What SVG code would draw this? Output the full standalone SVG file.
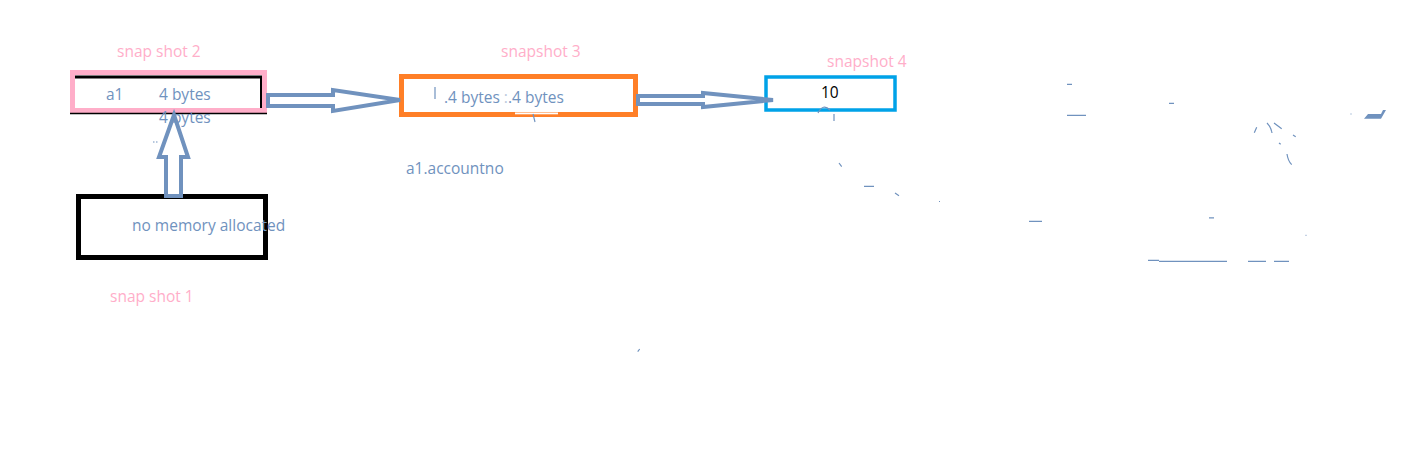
<svg xmlns="http://www.w3.org/2000/svg" width="1416" height="465" viewBox="0 0 1416 465">
<style>
  .t { font-family: "Open Sans", "Liberation Sans", sans-serif; font-size: 15.5px; }
  .pink { fill: #ffaec9; }
  .blue { fill: #7092be; }
  .arrow { fill: none; stroke: #7092be; stroke-width: 4; stroke-linejoin: miter; }
  .mark { fill: none; stroke: #7092be; stroke-width: 1.2; }
</style>
<rect width="1416" height="465" fill="#ffffff"/>

<g id="snapshot1">
  <rect x="78.5" y="196.5" width="187" height="61" fill="none" stroke="#000000" stroke-width="5"/>
  <text class="t pink" x="110" y="302">snap shot 1</text>
</g>

<g id="snapshot2">
  <path d="M75,77 H261.5 V108" fill="none" stroke="#000000" stroke-width="3"/>
  <rect x="72.5" y="72.5" width="192" height="38" fill="none" stroke="#ffaec9" stroke-width="5"/>
  <line x1="70" y1="113.5" x2="267" y2="113.5" stroke="#000000" stroke-width="1.5"/>
  <text class="t pink" x="117" y="57">snap shot 2</text>
  <text class="t blue" x="106" y="100">a1</text>
  <text class="t blue" x="159" y="100">4 bytes</text>
</g>

<g id="snapshot3">
  <rect x="401.5" y="76.5" width="234" height="38" fill="none" stroke="#ff7f27" stroke-width="5"/>
  <rect x="515" y="112.5" width="43" height="1.8" fill="#ffffff"/>
  <line x1="435" y1="87" x2="435" y2="99" stroke="#7092be" stroke-width="1.2"/>
  <path d="M533,114 L535,122" class="mark"/>
  <text class="t pink" x="501" y="57">snapshot 3</text>
  <text class="t blue" x="444" y="103">.4 bytes <tspan fill="#b9c8dc">:</tspan>.4 bytes</text>
  <text class="t blue" x="406" y="174">a1.accountno</text>
</g>

<g id="snapshot4">
  <rect x="766" y="77" width="129" height="33" fill="none" stroke="#00a2e8" stroke-width="3.5"/>
  <path d="M818,113 Q823,103 830,110" class="mark"/>
  <path d="M834,114 V121" class="mark"/>
  <text class="t pink" x="827" y="67">snapshot 4</text>
  <text class="t" x="821" y="98" fill="#000000">10</text>
</g>

<g id="connectors">
  <polygon class="arrow" points="166,196 166,157 159,157 174,115 188,157 181,157 181,196"/>
  <polygon class="arrow" points="268,95 333,95 333,90 400,100 333,111 333,106 268,106"/>
  <polygon class="arrow" points="638,96 703,96 703,93 773,100 703,107 703,104 638,104"/>
</g>

<text class="t blue" x="159" y="123">4 bytes</text>
<text class="t blue" x="132" y="231">no memory allocated</text>

<g id="stray-marks">
  <path class="mark" d="M153,142 h1.5 M156,142 h1.5"/>
  <path class="mark" d="M1067,84.3 H1072 M1067,115.3 H1086 M1169,103.3 H1174"/>
  <polygon fill="#7092be" points="1364,118.7 1368,114 1381,114 1383,110 1386,110 1381,118.7"/>
  <path class="mark" d="M1256.7,127.3 L1254.3,132.7 M1267,123 Q1271,127 1272,133 M1274,123 L1281.7,128.7 M1293,135 L1295.7,136.7 M1279,143 L1280.7,144.3 M1287,154 Q1288,161 1291.7,164.7"/>
  <rect x="1350.5" y="113.5" width="1" height="1" fill="#7092be"/>
  <path class="mark" d="M1029,221.3 H1042 M1209,217.8 H1214 M1148,260.3 H1159 M1159,261.3 H1227 M1248,261.3 H1266 M1274,261.3 H1289"/>
  <rect x="1305.5" y="234.8" width="1" height="1" fill="#7092be"/>
  <path class="mark" d="M839,163 L841.7,166.7 M864,186.3 H874 M895,193 L899,195.7 M639.7,349 L637.7,351.7"/>
  <rect x="939" y="201" width="1" height="1" fill="#7092be"/>
</g>
</svg>
